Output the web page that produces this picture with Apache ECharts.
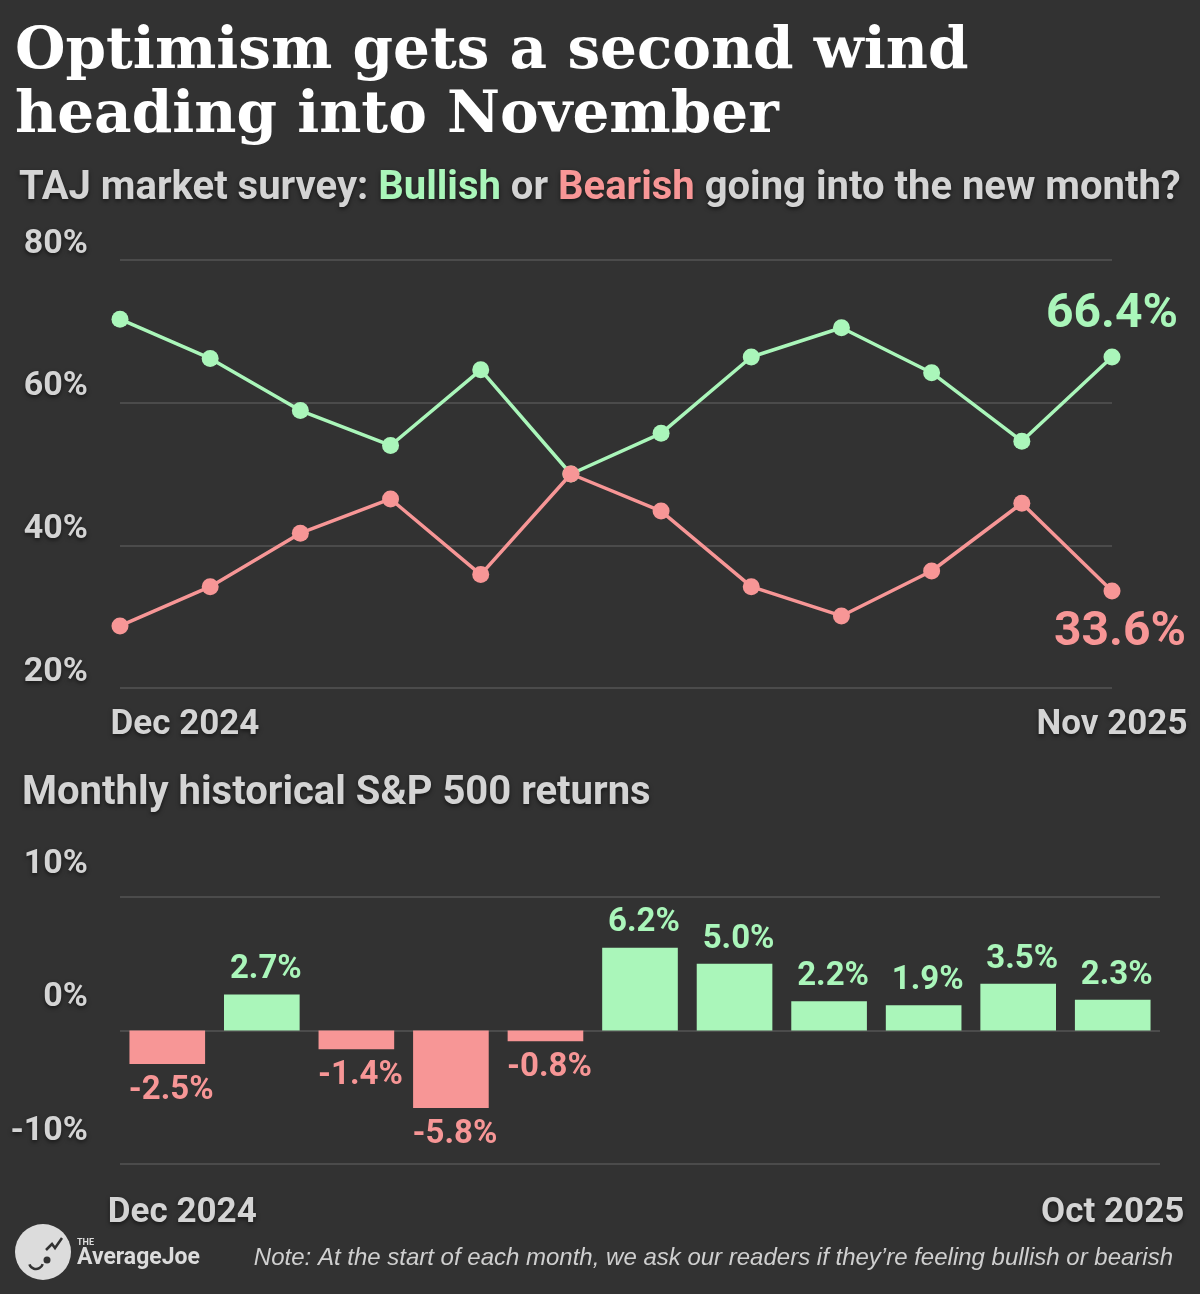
<!DOCTYPE html>
<html>
<head>
<meta charset="utf-8">
<script src="https://cdn.jsdelivr.net/npm/echarts@6/dist/echarts.min.js"></script>
<style>
  html, body { margin: 0; padding: 0; background: #323232; }
  #chart { width: 1200px; height: 1294px; }
</style>
</head>
<body>
<div id="chart"></div>
<script>
// survey data (percent of readers)
const surveyMonths = ['Dec 2024', 'Jan 2025', 'Feb 2025', 'Mar 2025', 'Apr 2025', 'May 2025',
  'Jun 2025', 'Jul 2025', 'Aug 2025', 'Sep 2025', 'Oct 2025', 'Nov 2025']
const bullish = [71.7, 66.2, 58.9, 54.0, 64.6, 50.0, 55.7, 66.4, 70.5, 64.2, 54.6, 66.4]
const bearish = [28.7, 34.2, 41.7, 46.5, 35.9, 50.0, 44.8, 34.2, 30.1, 36.4, 45.9, 33.6]

// S&P 500 monthly returns (percent)
const returnMonths = ['Dec 2024', 'Jan 2025', 'Feb 2025', 'Mar 2025', 'Apr 2025', 'May 2025',
  'Jun 2025', 'Jul 2025', 'Aug 2025', 'Sep 2025', 'Oct 2025']
const spReturns = [-2.5, 2.7, -1.4, -5.8, -0.8, 6.2, 5.0, 2.2, 1.9, 3.5, 2.3]

const surveyTicks = [20, 80, 20]   // min, max, interval
const returnTicks = [-10, 10, 10]

const GREEN = '#aaf6ba'
const PINK = '#f79696'
const LABEL = '#d4d4d4'
const GRIDLINE = '#555555'
const FONT = 'Roboto'
const shadow = { textShadowColor: 'rgba(0,0,0,0.55)', textShadowBlur: 4, textShadowOffsetY: 2 }

const chart = echarts.init(document.getElementById('chart'))

const lastIdx = surveyMonths.length - 1
function endLabel (arr, color, pos, dist, offset) {
  return arr.map((v, i) => i !== lastIdx ? v : {
    value: v,
    label: {
      show: true,
      position: pos,
      distance: dist,
      offset: offset,
      formatter: v.toFixed(1) + '%',
      color: color,
      fontFamily: FONT,
      fontWeight: 'bold',
      fontSize: 48
    }
  })
}

const barData = spReturns.map(v => {
  const c = v < 0 ? PINK : GREEN
  return {
    value: v,
    itemStyle: { color: c },
    label: {
      show: true,
      position: v < 0 ? 'bottom' : 'top',
      distance: v < 0 ? 10 : 8,
      offset: [4, 0],
      color: c,
      formatter: v.toFixed(1) + '%',
      fontFamily: FONT,
      fontWeight: 'bold',
      fontSize: 33
    }
  }
})

function firstLast (list) {
  return function (val, idx) {
    if (idx === 0) return '{f|' + val + '}'
    if (idx === list.length - 1) return '{l|' + val + '}'
    return ''
  }
}

const xLabelBase = { color: LABEL, fontFamily: FONT, fontWeight: 'bold', fontSize: 35, ...shadow }

function yLabel (lift) {
  return {
    margin: 32,
    formatter: '{value}%',
    color: LABEL,
    fontFamily: FONT,
    fontWeight: 'bold',
    fontSize: 34,
    verticalAlign: 'bottom',
    lineHeight: lift * 2,
    ...shadow
  }
}

const option = {
  backgroundColor: '#323232',
  animation: false,
  title: [
    {
      text: 'Optimism gets a second wind\nheading into November',
      left: 10,
      top: 16,
      textStyle: {
        color: '#ffffff',
        fontFamily: 'DejaVu Serif',
        fontWeight: 'bold',
        fontSize: 58,
        lineHeight: 64
      }
    },
    {
      text: '{g|TAJ market survey: }{b|Bullish}{g| or }{r|Bearish}{g| going into the new month?}',
      left: 14,
      top: 164,
      textStyle: {
        rich: {
          g: { color: LABEL, fontFamily: FONT, fontWeight: 'bold', fontSize: 40, ...shadow },
          b: { color: GREEN, fontFamily: FONT, fontWeight: 'bold', fontSize: 40, ...shadow },
          r: { color: PINK, fontFamily: FONT, fontWeight: 'bold', fontSize: 40, ...shadow }
        }
      }
    },
    {
      text: 'Monthly historical S&P 500 returns',
      left: 17,
      top: 769,
      textStyle: { color: LABEL, fontFamily: FONT, fontWeight: 'bold', fontSize: 40, ...shadow }
    }
  ],
  grid: [
    { left: 120, right: 88, top: 260, bottom: 606 },
    { left: 120, right: 40, top: 897, bottom: 130 }
  ],
  xAxis: [
    {
      gridIndex: 0,
      type: 'category',
      data: surveyMonths,
      boundaryGap: false,
      axisLine: { show: false },
      axisTick: { show: false },
      axisLabel: {
        interval: 0,
        margin: 20,
        formatter: firstLast(surveyMonths),
        rich: {
          f: { ...xLabelBase, padding: [0, 0, 0, 130] },
          l: { ...xLabelBase }
        }
      }
    },
    {
      gridIndex: 1,
      type: 'category',
      data: returnMonths,
      axisLine: { show: false },
      axisTick: { show: false },
      axisLabel: {
        interval: 0,
        margin: 32,
        formatter: firstLast(returnMonths),
        rich: {
          f: { ...xLabelBase, padding: [0, 0, 0, 30] },
          l: { ...xLabelBase }
        }
      }
    }
  ],
  yAxis: [
    {
      gridIndex: 0,
      type: 'value',
      min: surveyTicks[0],
      max: surveyTicks[1],
      interval: surveyTicks[2],
      axisLine: { show: false },
      axisTick: { show: false },
      splitLine: { lineStyle: { color: GRIDLINE, width: 1.5 } },
      axisLabel: yLabel(16)
    },
    {
      gridIndex: 1,
      type: 'value',
      min: returnTicks[0],
      max: returnTicks[1],
      interval: returnTicks[2],
      axisLine: { show: false },
      axisTick: { show: false },
      splitLine: { lineStyle: { color: GRIDLINE, width: 1.5 } },
      axisLabel: yLabel(33)
    }
  ],
  series: [
    {
      name: 'Bullish',
      type: 'line',
      xAxisIndex: 0,
      yAxisIndex: 0,
      data: endLabel(bullish, GREEN, 'top', 10, [0, 0]),
      symbol: 'circle',
      symbolSize: 17,
      color: GREEN,
      lineStyle: { color: GREEN, width: 3.5 },
      z: 3
    },
    {
      name: 'Bearish',
      type: 'line',
      xAxisIndex: 0,
      yAxisIndex: 0,
      data: endLabel(bearish, PINK, 'bottom', 10, [8, 0]),
      symbol: 'circle',
      symbolSize: 17,
      color: PINK,
      lineStyle: { color: PINK, width: 3.5 },
      z: 4
    },
    {
      name: 'S&P 500',
      type: 'bar',
      xAxisIndex: 1,
      yAxisIndex: 1,
      barWidth: '80%',
      data: barData
    }
  ],
  graphic: [
    // logo
    { type: 'circle', shape: { cx: 43, cy: 1252, r: 28 }, style: { fill: '#dcdcdc' } },
    { type: 'arc', shape: { cx: 36, cy: 1262, r: 7, startAngle: 0.3, endAngle: 2.8 }, style: { stroke: '#323232', lineWidth: 2.5, fill: null } },
    { type: 'circle', shape: { cx: 47, cy: 1260, r: 3.5 }, style: { fill: '#323232' } },
    { type: 'polyline', shape: { points: [[46, 1250], [52, 1244], [55, 1248], [62, 1238]] }, style: { stroke: '#323232', lineWidth: 2.5, fill: null } },
    { type: 'text', left: 77, top: 1238, style: { text: 'THE', fill: '#dcdcdc', font: 'bold 9px Roboto' } },
    { type: 'text', left: 77, top: 1247, style: { text: 'AverageJoe', fill: '#dcdcdc', font: 'bold 23px Roboto' } },
    // note
    {
      type: 'text',
      right: 27,
      top: 1246,
      style: {
        text: 'Note: At the start of each month, we ask our readers if they\u2019re feeling bullish or bearish',
        fill: '#cfcfcf',
        font: 'italic 24px "Liberation Sans"'
      }
    }
  ]
}

chart.setOption(option)
</script>
</body>
</html>
